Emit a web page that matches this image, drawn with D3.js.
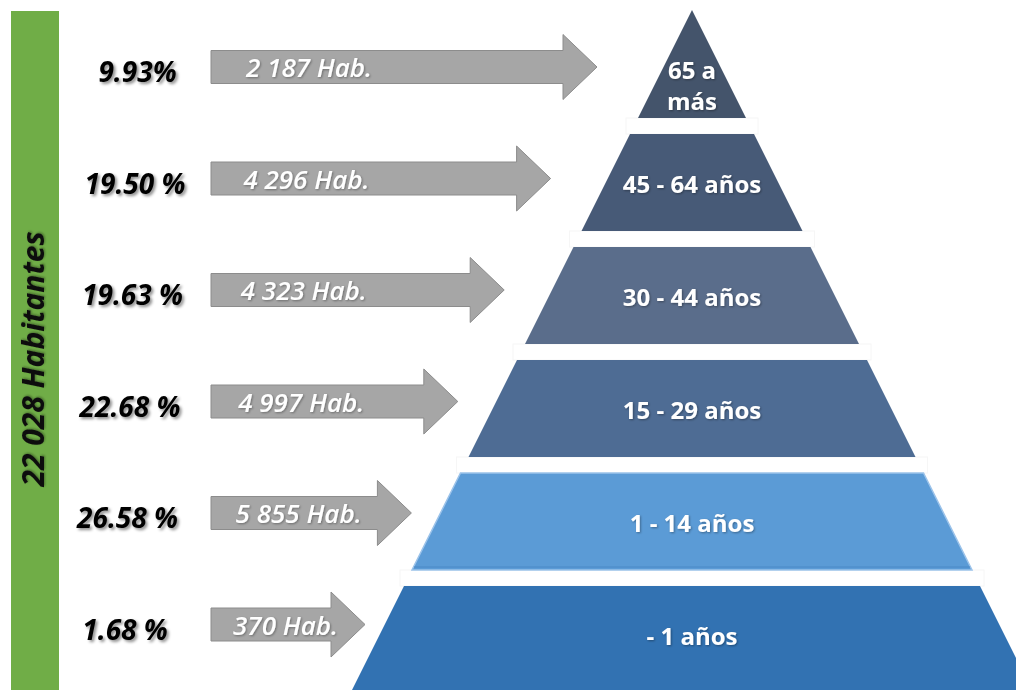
<!DOCTYPE html>
<html>
<head>
<meta charset="utf-8">
<script src="https://cdn.jsdelivr.net/npm/d3@7"></script>
<style>
  html, body { margin: 0; padding: 0; background: #ffffff; }
  svg { display: block; }
</style>
</head>
<body>
<svg id="chart" width="1016" height="690"></svg>
<script>
// Age groups, top of the pyramid first
const ageGroups = ["65 a más", "45 - 64 años", "30 - 44 años", "15 - 29 años", "1 - 14 años", "- 1 años"];
// Lines of text drawn inside each layer
const ageLabelLines = [["65 a", "más"], ["45 - 64 años"], ["30 - 44 años"], ["15 - 29 años"], ["1 - 14 años"], ["- 1 años"]];
// Inhabitants per age group
const population = [2187, 4296, 4323, 4997, 5855, 370];
// Share of the total per age group, as printed
const shareLabels = ["9.93%", "19.50 %", "19.63 %", "22.68 %", "26.58 %", "1.68 %"];

// Layer fills
const layerFill = ["#44546b", "#475a77", "#5a6d8b", "#4e6c94", "#5b9bd6", "#3272b2"];

const W = 1016, H = 690;
const svg = d3.select("#chart");

const fmt = d3.formatLocale({ decimal: ".", thousands: " ", grouping: [3], currency: ["", ""] }).format(",");
const total = d3.sum(population);

// ---- filters
const defs = svg.append("defs");
function shadow(id, dx, dy, sd, op) {
  const f = defs.append("filter").attr("id", id)
    .attr("x", "-20%").attr("y", "-40%").attr("width", "140%").attr("height", "180%");
  f.append("feDropShadow").attr("dx", dx).attr("dy", dy).attr("stdDeviation", sd)
    .attr("flood-color", "#000").attr("flood-opacity", op);
}
shadow("pctShadow", 2, 2, 1.4, 0.45);
shadow("softShadow", 1, 1, 0.8, 0.35);

// ---- scales
const cx = 692;                       // pyramid axis
const apexY = 10;
const row = d3.scaleBand().domain(ageGroups).range([21, 683]).paddingInner(16 / 113).paddingOuter(0);
const halfW = d3.scaleLinear().domain([apexY, 690]).range([0, 340]);
const arrowY = d3.scalePoint().domain(ageGroups).range([67, 624.5]);
const arrowTip = d3.scalePoint().domain(ageGroups).range([597, 365]);
const habX = d3.scalePoint().domain(ageGroups).range([246, 233]);
const pctX = d3.scalePoint().domain(ageGroups).range([137.5, 125]);

const last = ageGroups.length - 1;
const layers = ageGroups.map((g, i) => {
  const top = i === 0 ? apexY : row(g);
  const bottom = i === last ? H + 10 : row(g) + row.bandwidth();
  return { g, i, top, bottom };
});

// ---- green total bar
svg.append("rect").attr("x", 11).attr("y", 11).attr("width", 48).attr("height", H - 11).attr("fill", "#70ad47");
svg.append("text")
  .attr("transform", "translate(44,359) rotate(-90)")
  .attr("text-anchor", "middle")
  .attr("font-family", "'Open Sans', sans-serif")
  .attr("font-size", 30).attr("font-weight", 700).attr("font-style", "italic")
  .attr("fill", "#111")
  .attr("filter", "url(#softShadow)")
  .text(`${fmt(total)} Habitantes`);

// ---- white separator bands between layers
svg.append("g").selectAll("rect")
  .data(layers.slice(0, last))
  .join("rect")
  .attr("x", d => cx - halfW(d.bottom) - 12)
  .attr("y", d => d.bottom)
  .attr("width", d => 2 * halfW(d.bottom) + 24)
  .attr("height", d => layers[d.i + 1].top - d.bottom)
  .attr("fill", "#ffffff")
  .attr("stroke", "#f6f6f6")
  .attr("stroke-width", 1);

// ---- pyramid layers
const trap = d => {
  const a = halfW(d.top), b = halfW(d.bottom);
  return `M${cx - a},${d.top}L${cx + a},${d.top}L${cx + b},${d.bottom}L${cx - b},${d.bottom}Z`;
};
svg.append("g").selectAll("path")
  .data(layers)
  .join("path")
  .attr("d", trap)
  .attr("fill", d => layerFill[d.i])
  .attr("stroke", d => d.i === 4 ? "#9cc3ea" : "none")
  .attr("stroke-width", d => d.i === 4 ? 1.5 : 0);

// darker rim under the light-blue layer
const l5 = layers[4];
svg.append("line")
  .attr("x1", cx - halfW(l5.bottom) + 2).attr("x2", cx + halfW(l5.bottom) - 2)
  .attr("y1", l5.bottom - 3).attr("y2", l5.bottom - 3)
  .attr("stroke", "#4a88c6").attr("stroke-width", 1);

// ---- layer labels
const labelG = svg.append("g")
  .attr("font-family", "'Open Sans', sans-serif")
  .attr("font-size", 24).attr("font-weight", 700)
  .attr("fill", "#ffffff").attr("text-anchor", "middle")
  .attr("filter", "url(#softShadow)");
layers.forEach(d => {
  const lines = ageLabelLines[d.i];
  // triangle: centre near its centroid; trapezoids: middle of the band
  const c = d.i === 0 ? apexY + (row(d.g) + row.bandwidth() - apexY) * 2 / 3 + 2
                      : (d.i === last ? row(d.g) + row.bandwidth() / 2 : (d.top + d.bottom) / 2);
  const lh = 31;
  lines.forEach((t, k) => {
    labelG.append("text")
      .attr("x", cx)
      .attr("y", c + (k - (lines.length - 1) / 2) * lh)
      .attr("dy", "0.44em")
      .text(t);
  });
});

// ---- arrows
const bodyLeft = 211, bodyHalf = 16.5, headHalf = 32.5, headLen = 34;
const arrowPath = g => {
  const y = arrowY(g), tip = arrowTip(g), hx = tip - headLen;
  return `M${bodyLeft},${y - bodyHalf}L${hx},${y - bodyHalf}L${hx},${y - headHalf}L${tip},${y}` +
         `L${hx},${y + headHalf}L${hx},${y + bodyHalf}L${bodyLeft},${y + bodyHalf}Z`;
};
svg.append("g").selectAll("path")
  .data(ageGroups)
  .join("path")
  .attr("d", arrowPath)
  .attr("fill", "#a6a6a6")
  .attr("stroke", "#8c8c8c")
  .attr("stroke-width", 1);

// inhabitants inside each arrow
svg.append("g")
  .attr("font-family", "'Open Sans', sans-serif")
  .attr("font-size", 26).attr("font-weight", 600).attr("font-style", "italic")
  .attr("fill", "#ffffff")
  .attr("filter", "url(#softShadow)")
  .selectAll("text")
  .data(ageGroups)
  .join("text")
  .attr("x", g => habX(g))
  .attr("y", g => arrowY(g) + 10)
  .text((g, i) => `${fmt(population[i])} Hab.`);

// share labels on the left
svg.append("g")
  .attr("font-family", "'Open Sans', sans-serif")
  .attr("font-size", 28).attr("font-weight", 700).attr("font-style", "italic")
  .attr("fill", "#000000")
  .attr("text-anchor", "middle")
  .attr("filter", "url(#pctShadow)")
  .selectAll("text")
  .data(ageGroups)
  .join("text")
  .attr("x", g => pctX(g))
  .attr("y", g => arrowY(g) + 15)
  .text((g, i) => shareLabels[i]);
</script>
</body>
</html>
